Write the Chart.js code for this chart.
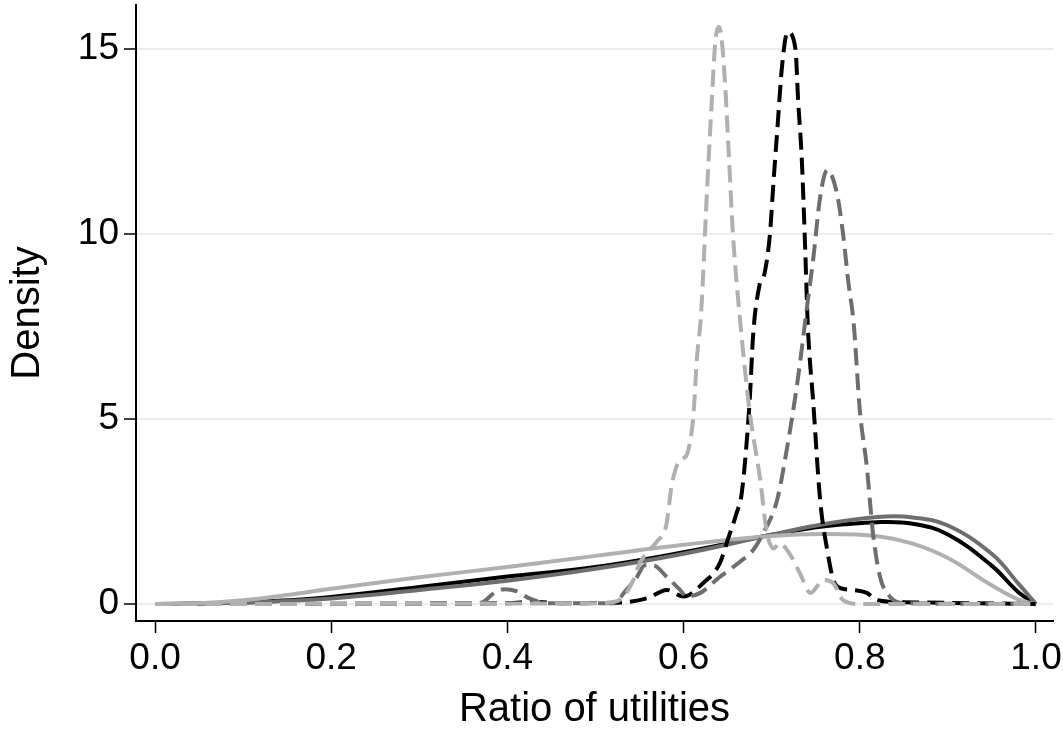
<!DOCTYPE html>
<html>
<head>
<meta charset="utf-8">
<title>Ratio of utilities</title>
<script src="https://cdn.jsdelivr.net/npm/chart.js@4.4.1/dist/chart.umd.min.js"></script>
<style>
  html, body { margin: 0; padding: 0; background: #fff; }
  #wrap { width: 1063px; height: 730px; }
</style>
</head>
<body>
<div id="wrap"><canvas id="densityChart" width="1063" height="730"></canvas></div>
<script>
// Axis ticks
const xTicks = [0, 0.2, 0.4, 0.6, 0.8, 1.0];
const yTicks = [0, 5, 10, 15];

const smoothX = [0, 0.05, 0.1, 0.15, 0.2, 0.3, 0.4, 0.5, 0.6, 0.7, 0.76, 0.82, 0.86, 0.9, 0.95, 0.98, 1.0];
const solidBlack = [0, 0.01, 0.04, 0.1, 0.19, 0.46, 0.74, 1.0, 1.4, 1.87, 2.1, 2.21, 2.17, 1.88, 1.03, 0.32, 0];
const solidDark  = [0, 0.01, 0.03, 0.08, 0.15, 0.38, 0.63, 0.95, 1.36, 1.87, 2.16, 2.35, 2.34, 2.12, 1.35, 0.55, 0];
const solidLight = [0, 0.02, 0.1, 0.24, 0.41, 0.72, 1.0, 1.3, 1.6, 1.84, 1.89, 1.83, 1.63, 1.24, 0.5, 0.12, 0];

// Peaked (dashed) densities
const dashBlackX = [0, 0.4, 0.43, 0.46, 0.52, 0.558, 0.581, 0.6, 0.622, 0.641, 0.651, 0.66, 0.666, 0.675, 0.679, 0.686, 0.692,
                    0.698, 0.702, 0.706, 0.712, 0.718, 0.727, 0.73, 0.734, 0.738, 0.741, 0.747, 0.755, 0.763, 0.77, 0.778,
                    0.792, 0.808, 0.82, 0.85, 1.0];
const dashBlackY = [0, 0.02, 0.06, 0.02, 0.03, 0.15, 0.38, 0.2, 0.56, 1.1, 1.8, 2.45, 3.0, 5.5, 7.3, 8.6, 8.95,
                    10.0, 11.4, 12.7, 14.6, 15.46, 15.0, 13.6, 12.1, 9.6, 7.5, 5.5, 2.8, 1.46, 0.65, 0.43,
                    0.38, 0.3, 0.1, 0.05, 0];

const dashDarkX = [0, 0.36, 0.372, 0.385, 0.397, 0.41, 0.425, 0.445, 0.52, 0.535, 0.547, 0.556, 0.565, 0.581, 0.596, 0.603,
                   0.619, 0.641, 0.664, 0.679, 0.69, 0.706, 0.717, 0.729, 0.741, 0.747, 0.755, 0.763, 0.774, 0.781, 0.787,
                   0.793, 0.8, 0.808, 0.815, 0.823, 0.834, 0.85, 1.0];
const dashDarkY = [0, 0.01, 0.05, 0.3, 0.4, 0.35, 0.15, 0.02, 0.02, 0.38, 0.73, 1.05, 1.05, 0.73, 0.38, 0.2,
                   0.3, 0.73, 1.14, 1.46, 1.9, 2.8, 4.16, 5.97, 8.2, 9.3, 11.0, 11.73, 11.1, 10.0, 8.7,
                   7.6, 5.24, 3.7, 1.9, 0.73, 0.2, 0.02, 0];

const dashLightX = [0, 0.5, 0.52, 0.532, 0.543, 0.55, 0.558, 0.57, 0.58, 0.587, 0.596, 0.603, 0.607, 0.611, 0.615, 0.62,
                    0.626, 0.632, 0.636, 0.64, 0.643, 0.647, 0.651, 0.656, 0.664, 0.675, 0.687, 0.694, 0.702, 0.709, 0.72,
                    0.732, 0.744, 0.759, 0.77, 0.781, 0.8, 1.0];
const dashLightY = [0, 0.02, 0.05, 0.2, 0.65, 1.1, 1.37, 1.7, 2.1, 3.27, 3.9, 4.0, 4.35, 5.05, 6.6, 7.9,
                    10.9, 13.6, 15.2, 15.6, 15.3, 14.1, 12.3, 10.0, 7.7, 5.2, 3.35, 2.0, 1.5, 1.64, 1.37,
                    0.83, 0.3, 0.65, 0.56, 0.1, 0, 0];

const BLACK = '#000000';
const DARK = '#6e6e6e';
const LIGHT = '#b0b0b0';
const FONT = '"Liberation Sans", Arial, sans-serif';

function toPoints(xs, ys) {
    return xs.map((x, i) => ({ x: x, y: ys[i] }));
}

function line(label, xs, ys, color, dashed) {
    return {
        label: label,
        data: toPoints(xs, ys),
        borderColor: color,
        borderWidth: 4,
        borderDash: dashed ? [17, 8] : [],
        pointRadius: 0,
        fill: false,
        // spiky curves keep monotone splines, smooth ones get plain bezier tension
        cubicInterpolationMode: dashed ? 'monotone' : 'default',
        tension: 0.4
    };
}

// first dataset is drawn on top
const datasets = [
    line('dashed light', dashLightX, dashLightY, LIGHT, true),
    line('dashed dark', dashDarkX, dashDarkY, DARK, true),
    line('dashed black', dashBlackX, dashBlackY, BLACK, true),
    line('solid light', smoothX, solidLight, LIGHT, false),
    line('solid dark', smoothX, solidDark, DARK, false),
    line('solid black', smoothX, solidBlack, BLACK, false)
];

// keep Chart.js from reserving room for edge labels
function noEdgePadding(scale) {
    scale.paddingTop = 0;
    scale.paddingBottom = 0;
    scale.paddingLeft = 0;
    scale.paddingRight = 0;
}

const ctx = document.getElementById('densityChart');
new Chart(ctx, {
    type: 'line',
    data: { datasets: datasets },
    options: {
        responsive: false,
        animation: false,
        layout: { padding: { top: 5, right: 10, left: 0, bottom: 0 } },
        plugins: {
            legend: { display: false },
            tooltip: { enabled: false }
        },
        scales: {
            x: {
                type: 'linear',
                min: -0.0216,
                max: 1.0193,
                afterBuildTicks: (scale) => { scale.ticks = xTicks.map(v => ({ value: v })); },
                afterFit: (scale) => { scale.height = 109; noEdgePadding(scale); },
                grid: {
                    drawOnChartArea: false,
                    drawTicks: true,
                    tickLength: 12,
                    tickColor: BLACK,
                    tickWidth: 1.5
                },
                border: { display: true, color: BLACK, width: 2 },
                ticks: {
                    padding: 4,
                    maxRotation: 0,
                    autoSkip: false,
                    color: BLACK,
                    font: { family: FONT, size: 37 },
                    callback: (v) => Number(v).toFixed(1)
                },
                title: {
                    display: true,
                    text: 'Ratio of utilities',
                    color: BLACK,
                    font: { family: FONT, size: 40 },
                    padding: { top: 0, bottom: -4 }
                }
            },
            y: {
                type: 'linear',
                min: -0.46,
                max: 16.19,
                afterBuildTicks: (scale) => { scale.ticks = yTicks.map(v => ({ value: v })); },
                afterFit: (scale) => { scale.width = 136; noEdgePadding(scale); },
                grid: {
                    color: '#e6eef0',
                    lineWidth: 2,
                    drawTicks: true,
                    tickLength: 12,
                    tickColor: BLACK,
                    tickWidth: 1.5
                },
                border: { display: true, color: BLACK, width: 2 },
                ticks: {
                    padding: 5,
                    color: BLACK,
                    font: { family: FONT, size: 37 },
                    callback: (v) => String(v)
                },
                title: {
                    display: true,
                    text: 'Density',
                    color: BLACK,
                    font: { family: FONT, size: 40 },
                    padding: { top: 4, bottom: 0 }
                }
            }
        }
    }
});
</script>
</body>
</html>
